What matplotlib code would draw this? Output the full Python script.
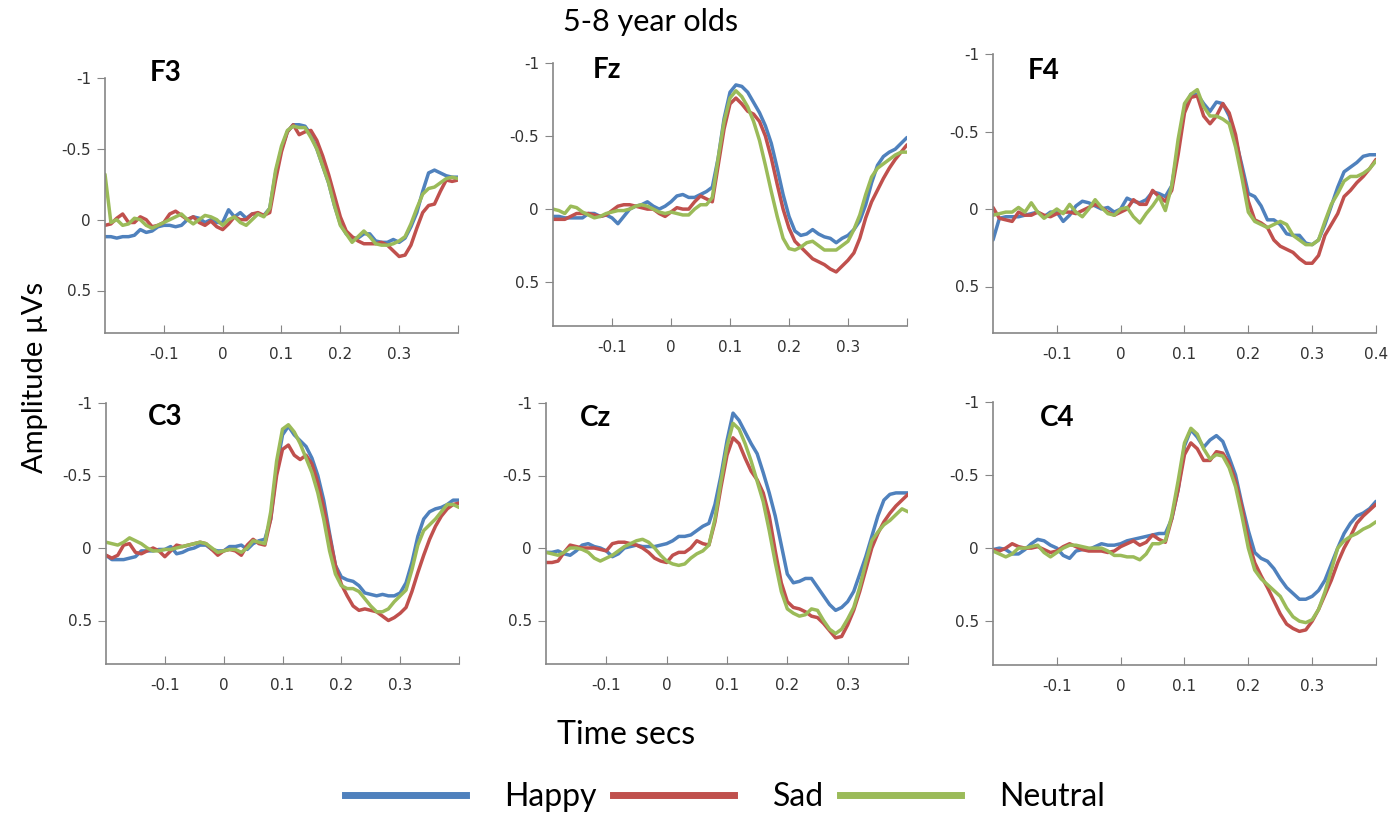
import numpy as np
import matplotlib
matplotlib.use("Agg")
import matplotlib.pyplot as plt
from matplotlib.lines import Line2D

# time axis, seconds (every 10 ms from -0.2 to 0.4)
times = np.round(np.arange(-0.2, 0.4001, 0.01), 2)

conditions = ["Happy", "Sad", "Neutral"]
colors = ["#4F81BD", "#C0504D", "#9BBB59"]

# amplitudes in uV (negative up)
f3_happy = [0.12, 0.12, 0.13, 0.12, 0.12, 0.11, 0.07, 0.09, 0.08, 0.05, 0.04, 0.04, 0.05, 0.04, 0.0, -0.02,
            -0.01, 0.02, 0.0, 0.02, 0.02, -0.07, -0.02, -0.05, -0.01, -0.04, -0.04, -0.03, -0.08, -0.33, -0.5,
            -0.62, -0.67, -0.67, -0.66, -0.6, -0.5, -0.38, -0.26, -0.1, 0.03, 0.1, 0.13, 0.13, 0.1, 0.1, 0.15,
            0.16, 0.16, 0.14, 0.16, 0.13, 0.05, -0.05, -0.2, -0.33, -0.35, -0.33, -0.31, -0.3, -0.3]
f3_sad = [0.04, 0.03, -0.01, -0.04, 0.02, 0.02, -0.02, 0.0, 0.05, 0.04, 0.02, -0.04, -0.06, -0.03, 0.0, -0.02,
          0.02, 0.04, 0.01, 0.05, 0.07, 0.03, -0.02, 0.0, 0.0, -0.04, -0.05, -0.03, -0.05, -0.28, -0.48,
          -0.62, -0.67, -0.6, -0.62, -0.63, -0.56, -0.45, -0.32, -0.17, -0.02, 0.08, 0.12, 0.15, 0.17, 0.17,
          0.17, 0.16, 0.18, 0.22, 0.26, 0.25, 0.18, 0.06, -0.05, -0.1, -0.11, -0.2, -0.28, -0.27, -0.28]
f3_neutral = [-0.32, 0.02, 0.0, 0.04, 0.03, -0.01, 0.0, 0.04, 0.06, 0.04, 0.02, 0.0, -0.02, -0.04, 0.0, 0.03,
              0.0, -0.03, -0.02, 0.0, 0.04, 0.0, -0.02, 0.02, 0.04, 0.0, -0.04, -0.02, -0.08, -0.35, -0.52,
              -0.63, -0.66, -0.65, -0.65, -0.58, -0.5, -0.38, -0.26, -0.1, 0.04, 0.1, 0.16, 0.12, 0.08, 0.12,
              0.17, 0.18, 0.18, 0.17, 0.15, 0.12, 0.03, -0.08, -0.18, -0.22, -0.23, -0.26, -0.29, -0.3, -0.29]

fz_happy = [0.05, 0.05, 0.06, 0.06, 0.06, 0.06, 0.03, 0.03, 0.05, 0.04, 0.06, 0.1, 0.05, 0.0, -0.02, -0.03,
            -0.05, -0.02, 0.0, -0.02, -0.05, -0.09, -0.1, -0.08, -0.08, -0.1, -0.12, -0.15, -0.35, -0.62, -0.8,
            -0.85, -0.84, -0.8, -0.73, -0.66, -0.57, -0.45, -0.28, -0.1, 0.05, 0.15, 0.18, 0.17, 0.14, 0.17,
            0.19, 0.2, 0.23, 0.2, 0.18, 0.14, 0.08, -0.03, -0.18, -0.3, -0.36, -0.39, -0.41, -0.45, -0.49]
fz_sad = [0.07, 0.07, 0.07, 0.05, 0.03, 0.03, 0.03, 0.04, 0.05, 0.04, 0.01, -0.02, -0.03, -0.03, -0.02, -0.01,
          0.0, 0.0, 0.03, 0.05, 0.02, -0.01, 0.0, 0.0, -0.05, -0.09, -0.07, -0.05, -0.3, -0.55, -0.72,
          -0.76, -0.72, -0.67, -0.65, -0.6, -0.5, -0.35, -0.17, 0.0, 0.13, 0.22, 0.26, 0.3, 0.34, 0.36,
          0.38, 0.41, 0.43, 0.39, 0.35, 0.3, 0.2, 0.06, -0.05, -0.13, -0.21, -0.28, -0.34, -0.39, -0.44]
fz_neutral = [0.0, 0.01, 0.03, -0.02, -0.01, 0.02, 0.04, 0.06, 0.05, 0.03, 0.02, 0.01, 0.01, 0.0, -0.02, -0.03,
              -0.02, 0.0, 0.02, 0.03, 0.02, 0.03, 0.04, 0.04, 0.0, -0.03, -0.03, -0.08, -0.35, -0.6, -0.76,
              -0.81, -0.77, -0.7, -0.6, -0.47, -0.3, -0.12, 0.05, 0.2, 0.27, 0.28, 0.26, 0.23, 0.22, 0.25,
              0.28, 0.28, 0.28, 0.25, 0.22, 0.14, 0.04, -0.1, -0.22, -0.28, -0.31, -0.34, -0.37, -0.39, -0.39]

f4_happy = [0.2, 0.06, 0.05, 0.05, 0.05, 0.04, 0.03, 0.02, 0.05, 0.02, 0.02, 0.08, 0.04, -0.02, -0.05, -0.04,
            -0.02, 0.0, -0.01, 0.02, 0.0, -0.07, -0.05, -0.04, -0.06, -0.11, -0.1, -0.08, -0.15, -0.4, -0.65,
            -0.74, -0.74, -0.68, -0.63, -0.69, -0.68, -0.6, -0.45, -0.28, -0.1, -0.08, -0.02, 0.07, 0.07, 0.1,
            0.16, 0.17, 0.17, 0.22, 0.23, 0.2, 0.1, -0.02, -0.14, -0.24, -0.27, -0.3, -0.34, -0.35, -0.35]
f4_sad = [-0.01, 0.06, 0.07, 0.08, 0.02, 0.04, 0.04, 0.02, 0.04, 0.05, 0.03, 0.02, 0.02, 0.03, 0.01, -0.01,
          -0.03, -0.01, 0.02, 0.04, 0.02, 0.0, -0.06, -0.03, -0.03, -0.12, -0.08, -0.05, -0.12, -0.35, -0.62,
          -0.72, -0.73, -0.6, -0.55, -0.6, -0.68, -0.62, -0.48, -0.25, -0.05, 0.07, 0.09, 0.12, 0.2, 0.24,
          0.26, 0.28, 0.32, 0.35, 0.35, 0.3, 0.17, 0.1, 0.03, -0.08, -0.12, -0.17, -0.21, -0.26, -0.32]
f4_neutral = [0.04, 0.03, 0.02, 0.02, -0.01, 0.02, -0.04, 0.02, 0.06, 0.03, 0.0, 0.03, -0.03, 0.02, 0.05, 0.0,
              -0.06, -0.01, 0.03, 0.04, 0.0, -0.01, 0.05, 0.09, 0.03, -0.02, -0.08, 0.01, -0.15, -0.45, -0.68,
              -0.74, -0.77, -0.66, -0.6, -0.6, -0.58, -0.55, -0.4, -0.2, 0.02, 0.08, 0.1, 0.12, 0.1, 0.08,
              0.1, 0.17, 0.2, 0.23, 0.23, 0.2, 0.08, -0.03, -0.1, -0.18, -0.21, -0.21, -0.23, -0.26, -0.31]

c3_happy = [0.05, 0.08, 0.08, 0.08, 0.07, 0.06, 0.02, 0.02, 0.02, 0.01, 0.01, -0.01, 0.04, 0.03, 0.01, 0.0,
            -0.02, -0.02, 0.01, 0.02, 0.02, -0.01, -0.01, -0.02, 0.01, -0.03, -0.05, -0.06, -0.2, -0.55, -0.78,
            -0.84, -0.78, -0.74, -0.7, -0.62, -0.5, -0.33, -0.1, 0.12, 0.2, 0.22, 0.23, 0.26, 0.31, 0.32,
            0.33, 0.32, 0.33, 0.33, 0.31, 0.24, 0.1, -0.08, -0.2, -0.25, -0.27, -0.28, -0.3, -0.33, -0.33]
c3_sad = [0.05, 0.07, 0.05, -0.02, -0.03, 0.03, 0.04, 0.02, 0.0, 0.02, 0.06, 0.02, -0.02, -0.01, -0.02, -0.03,
          -0.04, -0.03, 0.01, 0.05, 0.02, 0.01, 0.02, 0.05, -0.02, -0.06, -0.03, -0.02, -0.2, -0.5, -0.68,
          -0.71, -0.64, -0.61, -0.64, -0.58, -0.45, -0.28, -0.08, 0.12, 0.25, 0.33, 0.4, 0.43, 0.42, 0.43,
          0.44, 0.47, 0.5, 0.48, 0.45, 0.41, 0.3, 0.17, 0.05, -0.06, -0.15, -0.22, -0.27, -0.3, -0.31]
c3_neutral = [-0.04, -0.03, -0.02, -0.04, -0.07, -0.05, -0.03, 0.0, 0.02, 0.02, 0.01, 0.01, 0.0, -0.01, -0.02,
              -0.03, -0.04, -0.03, 0.0, 0.03, 0.02, 0.01, 0.01, 0.03, 0.0, -0.05, -0.04, -0.03, -0.25, -0.6,
              -0.82, -0.85, -0.8, -0.72, -0.62, -0.52, -0.38, -0.2, 0.02, 0.18, 0.26, 0.28, 0.28, 0.3, 0.35,
              0.4, 0.44, 0.44, 0.42, 0.37, 0.33, 0.29, 0.15, -0.02, -0.12, -0.16, -0.2, -0.25, -0.3, -0.3, -0.28]

cz_happy = [0.03, 0.03, 0.02, 0.04, 0.05, 0.02, -0.02, -0.03, -0.01, 0.0, 0.02, 0.06, 0.04, 0.0, -0.01, -0.02,
            -0.01, -0.01, -0.01, -0.02, -0.03, -0.05, -0.08, -0.08, -0.09, -0.12, -0.15, -0.17, -0.3, -0.5,
            -0.74, -0.93, -0.88, -0.8, -0.72, -0.65, -0.52, -0.38, -0.22, -0.02, 0.18, 0.24, 0.23, 0.21, 0.21,
            0.27, 0.33, 0.39, 0.43, 0.41, 0.37, 0.3, 0.18, 0.06, -0.08, -0.22, -0.33, -0.37, -0.38, -0.38, -0.38]
cz_sad = [0.1, 0.1, 0.09, 0.03, -0.02, -0.01, 0.0, 0.0, 0.0, 0.01, 0.02, -0.03, -0.04, -0.04, -0.03, -0.02,
          0.0, 0.03, 0.07, 0.09, 0.1, 0.05, 0.03, 0.03, 0.0, -0.05, -0.03, -0.02, -0.18, -0.42, -0.64,
          -0.76, -0.72, -0.62, -0.53, -0.47, -0.38, -0.22, 0.02, 0.24, 0.37, 0.41, 0.42, 0.44, 0.47, 0.48,
          0.52, 0.57, 0.62, 0.61, 0.53, 0.43, 0.3, 0.15, 0.0, -0.1, -0.18, -0.24, -0.29, -0.33, -0.37]
cz_neutral = [0.03, 0.04, 0.05, 0.03, 0.0, 0.0, 0.01, 0.03, 0.07, 0.09, 0.07, 0.05, 0.02, -0.01, -0.03, -0.05,
              -0.06, -0.04, 0.0, 0.05, 0.09, 0.11, 0.12, 0.11, 0.07, 0.04, 0.02, -0.02, -0.2, -0.46, -0.7,
              -0.86, -0.82, -0.72, -0.6, -0.46, -0.32, -0.12, 0.1, 0.3, 0.42, 0.45, 0.47, 0.46, 0.42, 0.43,
              0.5, 0.56, 0.59, 0.56, 0.49, 0.41, 0.27, 0.1, -0.05, -0.11, -0.16, -0.19, -0.23, -0.27, -0.25]

c4_happy = [0.01, 0.0, 0.01, 0.04, 0.04, 0.01, -0.03, -0.06, -0.05, -0.02, 0.0, 0.05, 0.07, 0.02, 0.01, 0.01,
            -0.01, -0.03, -0.02, -0.02, -0.03, -0.05, -0.06, -0.07, -0.08, -0.09, -0.1, -0.1, -0.2, -0.4, -0.7,
            -0.81, -0.76, -0.69, -0.74, -0.77, -0.73, -0.62, -0.5, -0.3, -0.12, 0.03, 0.07, 0.09, 0.14, 0.21,
            0.27, 0.31, 0.35, 0.35, 0.33, 0.29, 0.22, 0.11, 0.0, -0.1, -0.17, -0.22, -0.24, -0.27, -0.32]
c4_sad = [0.01, 0.02, 0.0, -0.03, -0.01, 0.0, 0.0, -0.01, 0.01, 0.03, 0.02, -0.01, -0.03, -0.01, 0.01, 0.02,
          0.02, 0.02, 0.03, 0.02, -0.01, -0.03, -0.05, -0.02, -0.04, -0.09, -0.06, -0.04, -0.2, -0.4, -0.64,
          -0.72, -0.68, -0.6, -0.6, -0.66, -0.65, -0.58, -0.46, -0.28, -0.05, 0.1, 0.19, 0.27, 0.36, 0.45,
          0.52, 0.55, 0.57, 0.56, 0.5, 0.42, 0.32, 0.22, 0.1, 0.0, -0.08, -0.17, -0.22, -0.26, -0.3]
c4_neutral = [0.02, 0.04, 0.06, 0.04, 0.0, 0.0, -0.01, -0.02, 0.03, 0.06, 0.03, 0.0, -0.02, -0.02, -0.01, 0.0,
              0.0, 0.0, 0.02, 0.05, 0.05, 0.06, 0.06, 0.08, 0.04, -0.03, -0.03, -0.05, -0.22, -0.46, -0.72,
              -0.82, -0.78, -0.68, -0.61, -0.64, -0.63, -0.55, -0.42, -0.22, 0.0, 0.15, 0.21, 0.25, 0.29, 0.33,
              0.41, 0.47, 0.5, 0.51, 0.49, 0.42, 0.3, 0.15, 0.0, -0.05, -0.08, -0.1, -0.13, -0.15, -0.18]

electrodes = ["F3", "Fz", "F4", "C3", "Cz", "C4"]
waves = {
    "F3": [f3_happy, f3_sad, f3_neutral],
    "Fz": [fz_happy, fz_sad, fz_neutral],
    "F4": [f4_happy, f4_sad, f4_neutral],
    "C3": [c3_happy, c3_sad, c3_neutral],
    "Cz": [cz_happy, cz_sad, cz_neutral],
    "C4": [c4_happy, c4_sad, c4_neutral],
}

# axes boxes in pixels: left, right, top, bottom  (figure is 1393 x 818)
W, H = 1393, 818
boxes = {
    "F3": (105, 458, 78, 333),
    "Fz": (553, 907, 63, 326),
    "F4": (993, 1376, 54, 333),
    "C3": (106, 459, 403, 664),
    "Cz": (546, 908, 403, 664),
    "C4": (993, 1376, 402, 665),
}
label_pos = {"F3": (0.127, 1.02), "Fz": (0.113, 0.973), "F4": (0.091, 0.939),
             "C3": (0.119, 0.946), "Cz": (0.094, 0.943), "C4": (0.123, 0.939)}

grey = "#868686"
txt = "Lato"

fig = plt.figure(figsize=(13.93, 8.18), dpi=100)

for name in electrodes:
    l, r, t, b = boxes[name]
    ax = fig.add_axes([l / W, 1 - b / H, (r - l) / W, (b - t) / H])
    for ys, c in zip(waves[name], colors):
        ax.plot(times, ys, color=c, lw=2.5, solid_capstyle="round")
    ax.set_xlim(-0.2, 0.4)
    ax.set_ylim(0.8, -1.0)
    ax.set_yticks([-1, -0.5, 0, 0.5])
    ax.set_yticklabels(["-1", "-0.5", "0", "0.5"])
    ax.set_xticks([-0.1, 0, 0.1, 0.2, 0.3, 0.4])
    xl = ["-0.1", "0", "0.1", "0.2", "0.3", "0.4" if name == "F4" else ""]
    ax.set_xticklabels(xl)
    for s in ["top", "right"]:
        ax.spines[s].set_visible(False)
    for s in ["left", "bottom"]:
        ax.spines[s].set_color(grey)
        ax.spines[s].set_linewidth(1.2)
    ax.tick_params(axis="y", direction="out", length=6, color=grey, labelsize=11,
                   labelcolor="#333333", pad=4)
    ax.tick_params(axis="x", direction="in", length=6, color=grey, labelsize=11,
                   labelcolor="#333333", pad=10)
    ax.text(label_pos[name][0], label_pos[name][1], name, transform=ax.transAxes,
            fontsize=20, fontweight="bold", family=txt, va="center", ha="left")

fig.text(651 / W, 1 - 22 / H, "5-8 year olds", ha="center", va="center", fontsize=22, family=txt)
fig.text(35 / W, 1 - 377 / H, "Amplitude µVs", ha="center", va="center", rotation=90,
         fontsize=21, family=txt)
fig.text(626 / W, 1 - 735 / H, "Time secs", ha="center", va="center", fontsize=23, family=txt)

handles = [Line2D([], [], color=c, lw=5) for c in colors]
fig.legend(handles, conditions, loc="center", bbox_to_anchor=(725 / W, 1 - 797 / H), ncol=3,
           frameon=False, prop={"family": txt, "size": 23}, handlelength=3.8,
           handletextpad=1.2, columnspacing=0.5)

fig.savefig("out.png", dpi=100)
